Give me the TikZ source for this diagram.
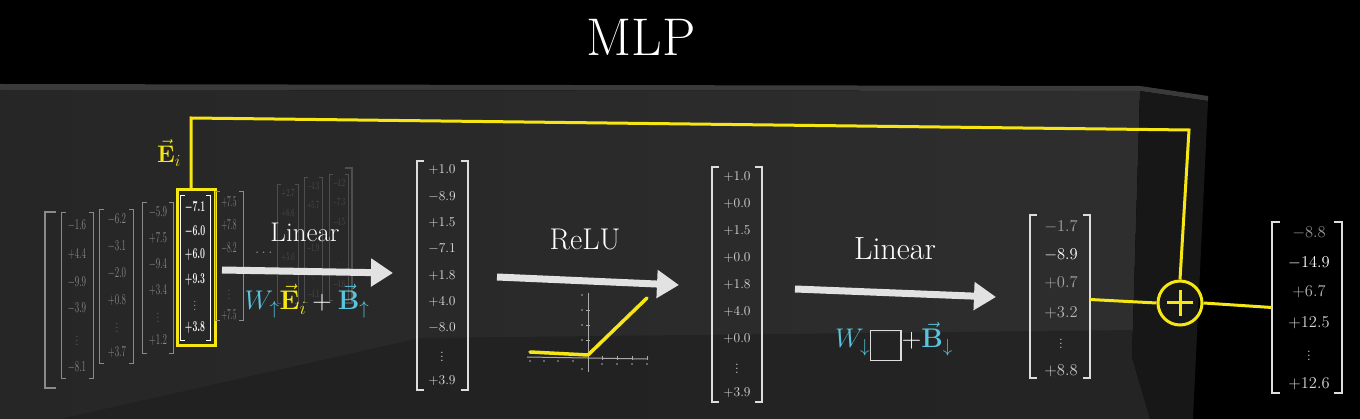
\RequirePackage{fix-cm}
\documentclass[tikz,border=0pt]{standalone}
\usepackage{amsmath}
\usetikzlibrary{arrows.meta,calc}
\definecolor{yl}{HTML}{F5E614}
\definecolor{bl}{HTML}{58C4DD}
\definecolor{topc}{HTML}{3A3A3A}
\definecolor{frontL}{HTML}{262626}
\definecolor{frontR}{HTML}{2E2E2E}
\definecolor{floorc}{HTML}{1C1C1C}
\definecolor{sidec}{HTML}{171717}
\definecolor{arrc}{HTML}{E2E2E2}
\definecolor{brkc}{HTML}{DDDDDD}
\definecolor{dimc}{HTML}{8A8A8A}
\definecolor{farc}{HTML}{4E4E4E}
\definecolor{axc}{HTML}{AAAAAA}
\newcommand{\vd}{\smash{\raisebox{-0.5\height}{$\vdots$}}}
\newcommand{\colvec}[7]{%
  \node[vb, minimum width=#4pt, minimum height=#5pt] (#1) at (#2,#3) {};
  \draw[#6] ([xshift=#7pt]#1.north west) -- (#1.north west) -- (#1.south west) -- ([xshift=#7pt]#1.south west);
  \draw[#6] ([xshift=-#7pt]#1.north east) -- (#1.north east) -- (#1.south east) -- ([xshift=-#7pt]#1.south east);}
\tikzset{
  vb/.style={rectangle, draw=none, inner sep=0pt},
  ent/.style={inner sep=0pt, font=\fontsize{13.5}{15}\selectfont},
  bent/.style={inner sep=0pt, font=\fontsize{16.5}{18}\selectfont},
  sent/.style={inner sep=0pt, font=\fontsize{15}{16}\selectfont},
  fent/.style={inner sep=0pt, font=\fontsize{11}{12}\selectfont, text=farc},
  brk/.style={draw=brkc, line width=1.6pt},
  sbrk/.style={draw=dimc, line width=1.1pt},
  fbrk/.style={draw=farc, line width=0.9pt},
  yline/.style={draw=yl, line width=3pt},
  bigarrow/.style={draw=arrc, line width=7pt, -{Triangle[length=22pt,width=27pt]}},
  lbl/.style={text=white, anchor=base, inner sep=0pt},
}
\begin{document}
\begin{tikzpicture}[x=1pt,y=-1pt]
\useasboundingbox (0,0) rectangle (1360,419);
\fill[black] (0,0) rectangle (1360,419);
% block
\fill[topc] (0,84) -- (1140,86) -- (1208,96) -- (1208,101) -- (1140,91) -- (0,90) -- cycle;
\shade[left color=frontL, right color=frontR] (0,90) -- (1140,91) -- (1132,357) -- (1150,419) -- (0,419) -- cycle;
\fill[floorc, opacity=0.5] (60,419) -- (420,338) -- (1133,330) -- (1132,357) -- (1150,419) -- cycle;
\fill[sidec] (1140,91) -- (1208,101) -- (1193,419) -- (1150,419) -- (1132,357) -- cycle;

% title
\node[font=\fontsize{53}{60}\selectfont, text=white, inner sep=0pt] (title) at (641,37) {MLP};

% left matrix of columns
\draw[draw=dimc, line width=2pt] (56,212) -- (45,212) -- (45,388) -- (56,388);
\draw[fbrk, line width=1.2pt] (345,168) -- (352,168) -- (352,303) -- (345,303);
\colvec{c1}{77.5}{295.5}{31}{165}{sbrk}{4}
\foreach \yy/\vv [count=\k] in {225/$-1.6$,254/$+4.4$,282/$-9.9$,308/$-3.9$,338/\vd,367/$-8.1$}
  \node[sent, text=dimc] (c1e\k) at (77,\yy) {\scalebox{0.6}[1]{\vv}};
\colvec{c2}{116.5}{286.5}{33}{153}{sbrk}{4}
\foreach \yy/\vv [count=\k] in {219/$-6.2$,246/$-3.1$,273/$-2.0$,300/$+0.8$,325/\vd,352/$+3.7$}
  \node[sent, text=dimc] (c2e\k) at (117,\yy) {\scalebox{0.6}[1]{\vv}};
\colvec{c3}{158}{278}{30}{150}{sbrk}{4}
\foreach \yy/\vv [count=\k] in {212/$-5.9$,238/$+7.5$,264/$-9.4$,290/$+3.4$,315/\vd,340/$+1.2$}
  \node[sent, text=dimc] (c3e\k) at (158,\yy) {\scalebox{0.6}[1]{\vv}};
\colvec{c4}{195.5}{268}{29}{144}{draw=white, line width=1.2pt}{4}
\foreach \yy/\vv [count=\k] in {208/$-7.1$,232/$-6.0$,255/$+6.0$,280/$+9.3$,303/\vd,328/$+3.8$}
  \node[sent, text=white] (c4e\k) at (195,\yy) {\scalebox{0.58}[1]{\boldmath\vv}};
\node[vb, draw=yl, line width=3pt, minimum width=38pt, minimum height=156pt] (ebox) at (196,268) {};
\colvec{c5}{229.5}{256}{27}{128}{sbrk}{4}
\foreach \yy/\vv [count=\k] in {202/$+7.5$,225/$+7.8$,248/$-8.2$,292/\vd,315/$+7.5$}
  \node[sent, text=dimc] (c5e\k) at (229,\yy) {\scalebox{0.5}[1]{\vv}};
\node[sent, text=dimc] (cdots) at (265,253) {$\cdots$};
\colvec{c6}{288}{244}{20}{118}{fbrk}{3}
\foreach \yy/\vv [count=\k] in {193/$+2.7$,213/$+6.6$,257/$+5.0$,280/\vd}
  \node[fent] (c6e\k) at (288,\yy) {\scalebox{0.6}[1]{\vv}};
\colvec{c7}{313.5}{240}{17}{124}{fbrk}{3}
\foreach \yy/\vv [count=\k] in {186/$-4.3$,205/$+5.7$,248/$-1.9$,272/\vd,294/$-4.1$}
  \node[fent] (c7e\k) at (313,\yy) {\scalebox{0.55}[1]{\vv}};
\colvec{c8}{339}{237.5}{18}{125}{fbrk}{3}
\foreach \yy/\vv [count=\k] in {183/$-4.2$,202/$-7.3$,222/$-4.5$,265/\vd,284/$-4.6$}
  \node[fent] (c8e\k) at (339,\yy) {\scalebox{0.55}[1]{\vv}};

% arrows
\coordinate (a1s) at (222,270); \coordinate (a1e) at (393,273);
\coordinate (a2s) at (497,277); \coordinate (a2e) at (679,285);
\coordinate (a3s) at (795,289); \coordinate (a3e) at (996,297);
\draw[bigarrow] (a1s) -- (a1e);
\draw[bigarrow] (a2s) -- (a2e);
\draw[bigarrow] (a3s) -- (a3e);

% labels
\node[lbl, font=\fontsize{27}{30}\selectfont] (lin1) at (305,242) {Linear};
\node[lbl, font=\fontsize{27}{30}\selectfont] (f1) at (307,310)
  {${\color{bl}W_{\uparrow}}{\color{yl}\vec{\mathbf{E}}_i}+{\color{bl}\vec{\mathbf{B}}_{\uparrow}}$};
\node[lbl, font=\fontsize{30}{33}\selectfont] (relu) at (585,250) {ReLU};
\node[lbl, font=\fontsize{32}{35}\selectfont] (lin2) at (895,260) {Linear};
\node[lbl, font=\fontsize{27}{29}\selectfont] (f2) at (894,348)
  {${\color{bl}W_{\downarrow}}$\raisebox{-12pt}{\color{brkc}\setlength{\fboxsep}{0pt}\setlength{\fboxrule}{1.4pt}\fbox{\rule{0pt}{29pt}\hspace{29pt}}}${+}{\color{bl}\vec{\mathbf{B}}_{\downarrow}}$};
\node[lbl, text=yl, font=\fontsize{24}{26}\selectfont] (elbl) at (169,163) {$\vec{\mathbf{E}}_i$};

% vector 2
\colvec{v2}{442.5}{275.5}{51}{229}{brk}{7}
\foreach \vv [count=\k from 0] in {$+1.0$,$-8.9$,$+1.5$,$-7.1$,$+1.8$,$+4.0$,$-8.0$,\vd,$+3.9$}
  \node[ent, text=white!88!black] (v2e\k) at (442,170+26.3*\k) {\vv};
% vector 3
\colvec{v3}{737}{284.5}{50}{235}{brk}{7}
\foreach \vv [count=\k from 0] in {$+1.0$,$+0.0$,$+1.5$,$+0.0$,$+1.8$,$+4.0$,$+0.0$,\vd,$+3.9$}
  \node[ent, text=white!85!black] (v3e\k) at (737,177+27*\k) {\vv};
% vector 4
\colvec{v4}{1060}{296.5}{60}{163}{brk}{7}
\foreach \yy/\cc/\vv [count=\k] in {227/white!65!black/$-1.7$,255/white/$-8.9$,283/white!65!black/$+0.7$,313/white!72!black/$+3.2$,341/white!80!black/\vd,371/white!80!black/$+8.8$}
  \node[bent, text=\cc] (v4e\k) at (1061,\yy) {\vv};
% vector 5
\colvec{v5}{1307}{307.5}{70}{171}{brk}{8}
\foreach \yy/\cc/\vv [count=\k] in {233/white!60!black/$-8.8$,263/white/$-14.9$,292/white!72!black/$+6.7$,323/white!85!black/$+12.5$,353/white!85!black/\vd,384/white!85!black/$+12.6$}
  \node[bent, text=\cc] (v5e\k) at (1309,\yy) {\vv};

% ReLU plot
\draw[axc, line width=1pt] (527,357) -- (648,359);
\draw[axc, line width=1pt] (588,293) -- (588,372);
\foreach \x in {530,544,558,573} \fill[axc] (\x,361) circle (0.9);
\foreach \x in {602,617,632,647} \fill[axc] (\x,364) circle (0.9);
\foreach \x in {602,617,632,647} \draw[axc, line width=0.6pt] (\x,356) -- (\x,360);
\foreach \y in {295,310,325,340,369} \fill[axc] (582,\y) circle (0.9);
\foreach \y in {310,325,340} \draw[axc, line width=0.6pt] (586,\y) -- (590,\y);
\draw[yl, line width=3.5pt, line cap=round, line join=round] (530,352) -- (588,355) -- (647,298);

% residual connection
\node[circle, draw=yl, line width=3pt, minimum size=44pt, inner sep=0pt] (plus) at (1180,303) {};
\draw[yl, line width=3pt] ([xshift=-13pt]plus.center) -- ([xshift=13pt]plus.center);
\draw[yl, line width=3pt] ([yshift=-13pt]plus.center) -- ([yshift=13pt]plus.center);
\coordinate (cTL) at (191,118);
\coordinate (cTR) at (1189,130);
\draw[yline, line join=miter] ([xshift=-5pt]ebox.north) -- (cTL) -- (cTR) -- (plus.north);
\draw[yline] ([yshift=-3pt]v4.east) -- (plus.west);
\draw[yline] (plus.east) -- (v5.west);
\end{tikzpicture}
\end{document}
